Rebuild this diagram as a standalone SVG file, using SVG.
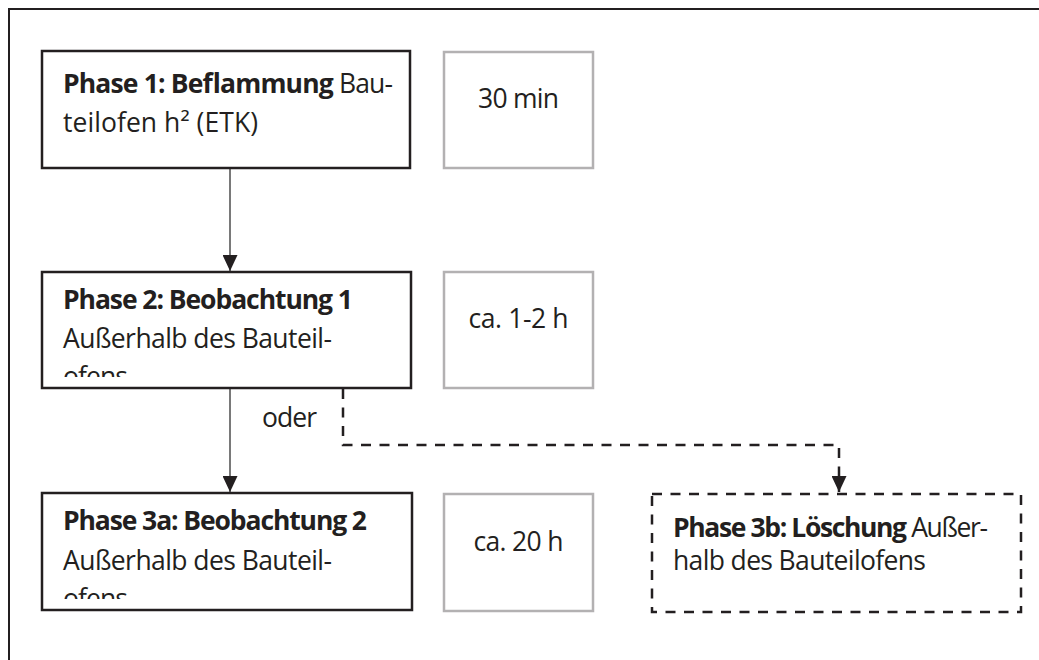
<svg xmlns="http://www.w3.org/2000/svg" width="1039" height="660" viewBox="0 0 1039 660">
<style>
  text { font-family: "Open Sans", "Liberation Sans", sans-serif; font-size: 26.5px; fill: #231f20; }
  .b { font-weight: bold; }
  .mid { text-anchor: middle; }
  .box { fill: #ffffff; stroke: #231f20; stroke-width: 2.5; }
  .gbox { fill: #ffffff; stroke: #b3b1b2; stroke-width: 2.5; }
  .dbox { fill: #ffffff; stroke: #231f20; stroke-width: 2.5; stroke-dasharray: 10 8.5; }
  .solid { stroke: #4d4d4d; stroke-width: 1.5; fill: none; }
  .dash { stroke: #231f20; stroke-width: 2.5; stroke-dasharray: 10 8.5; fill: none; }
  .frame { stroke: #231f20; stroke-width: 2; fill: none; }
</style>
<defs>
  <marker id="arr" markerUnits="userSpaceOnUse" markerWidth="16" markerHeight="15" refX="16" refY="7.5" orient="auto">
    <path d="M0,0 L16,7.5 L0,15 Z" fill="#231f20" stroke="none"/>
  </marker>
  <clipPath id="clip2"><rect x="42" y="272" width="369" height="105"/></clipPath>
  <clipPath id="clip3a"><rect x="42" y="493" width="370" height="106"/></clipPath>
</defs>

<path class="frame" d="M9,660 V9 H1039"/>

<g id="connectors">
  <line class="solid" x1="230" y1="169" x2="230" y2="271" marker-end="url(#arr)"/>
  <line class="solid" x1="230" y1="389" x2="230" y2="492" marker-end="url(#arr)"/>
  <path class="dash" d="M343,389 V445 H839 V492" marker-end="url(#arr)"/>
  <text x="262" y="427" textLength="55">oder</text>
</g>

<g id="phase1">
  <rect class="box" x="42" y="51" width="368" height="117"/>
  <text x="63" y="93" textLength="330"><tspan class="b">Phase 1: Beflammung</tspan> Bau-</text>
  <text x="63" y="132" textLength="195">teilofen h² (ETK)</text>
</g>
<g id="time1">
  <rect class="gbox" x="444" y="52" width="149" height="116"/>
  <text class="mid" x="518.5" y="108" textLength="81">30 min</text>
</g>

<g id="phase2">
  <rect class="box" x="42" y="272" width="369" height="116"/>
  <g clip-path="url(#clip2)">
    <text class="b" x="63" y="309" textLength="290">Phase 2: Beobachtung 1</text>
    <text x="63" y="348" textLength="269">Außerhalb des Bauteil-</text>
    <text x="63" y="386" textLength="65">ofens</text>
  </g>
</g>
<g id="time2">
  <rect class="gbox" x="444" y="272" width="149" height="116"/>
  <text class="mid" x="518.5" y="328" textLength="100">ca. 1-2 h</text>
</g>

<g id="phase3a">
  <rect class="box" x="42" y="493" width="370" height="117"/>
  <g clip-path="url(#clip3a)">
    <text class="b" x="63" y="530" textLength="304">Phase 3a: Beobachtung 2</text>
    <text x="63" y="570" textLength="269">Außerhalb des Bauteil-</text>
    <text x="63" y="608" textLength="65">ofens</text>
  </g>
</g>
<g id="time3a">
  <rect class="gbox" x="444" y="494" width="149" height="117"/>
  <text class="mid" x="518.5" y="551" textLength="90">ca. 20 h</text>
</g>

<g id="phase3b">
  <rect class="dbox" x="652" y="494" width="369" height="118"/>
  <text x="673" y="537" textLength="315"><tspan class="b">Phase 3b: Löschung</tspan> Außer-</text>
  <text x="673" y="570" textLength="253">halb des Bauteilofens</text>
</g>
</svg>
